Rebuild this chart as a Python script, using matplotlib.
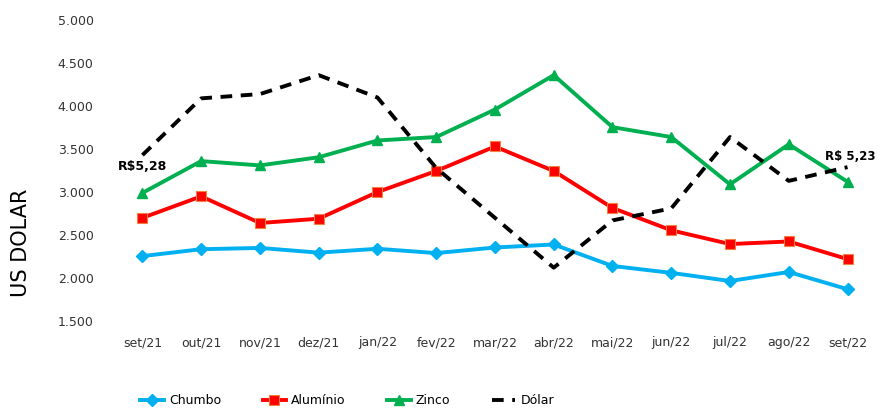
import matplotlib.pyplot as plt
from matplotlib.ticker import FuncFormatter

months = ["set/21", "out/21", "nov/21", "dez/21", "jan/22", "fev/22", "mar/22",
          "abr/22", "mai/22", "jun/22", "jul/22", "ago/22", "set/22"]
chumbo = [2255, 2335, 2350, 2295, 2340, 2290, 2355, 2390, 2140, 2060, 1965, 2070, 1870]
aluminio = [2700, 2950, 2640, 2690, 3000, 3245, 3530, 3245, 2815, 2555, 2395, 2425, 2220]
zinco = [2990, 3360, 3310, 3405, 3600, 3640, 3960, 4360, 3755, 3640, 3090, 3555, 3120]
dolar = [3430, 4090, 4140, 4360, 4100, 3280, 2700, 2120, 2670, 2810, 3640, 3130, 3290]

x = list(range(len(months)))

fig = plt.figure(figsize=(8.79, 4.11), dpi=100)
ax = fig.add_axes([0.1286, 0.219, 0.869, 0.732])

ax.plot(x, chumbo, color="#00B0F0", lw=2.8, marker="D", ms=6, label="Chumbo")
ax.plot(x, aluminio, color="#FF0000", lw=2.8, marker="s", ms=7,
        markeredgecolor="#F08040", markeredgewidth=0.8, label="Alumínio")
ax.plot(x, zinco, color="#00B050", lw=2.8, marker="^", ms=7, label="Zinco")
ax.plot(x, dolar, color="black", lw=2.8, ls=(0, (3, 2.2)), label="Dólar")

ax.text(0, 3300, "R$5,28", fontsize=9, fontweight="bold", ha="center", va="center")
# last dollar label sits right at the figure edge
fig.text(0.996, 0.620, "R$ 5,23", fontsize=8.5, fontweight="bold", ha="right", va="center")

ax.set_xlim(-0.5, 12.5)
ax.set_ylim(1500, 5000)
ax.set_yticks(range(1500, 5001, 500))
ax.yaxis.set_major_formatter(FuncFormatter(lambda v, p: f"{int(v):,}".replace(",", ".")))
ax.set_xticks(x)
ax.set_xticklabels(months)
ax.tick_params(length=0, labelsize=9, colors="#333333")
ax.tick_params(axis="y", pad=14)
ax.tick_params(axis="x", pad=11)
for s in ax.spines.values():
    s.set_visible(False)

fig.text(0.024, 0.409, "US DOLAR", rotation=90, fontsize=15, ha="center", va="center",
         color="black")

fig.legend(loc="center", bbox_to_anchor=(0.395, 0.025), ncol=4, frameon=False,
           fontsize=9, handlelength=1.9, columnspacing=3.3, handletextpad=0.4)

fig.savefig("out.png", dpi=100)
